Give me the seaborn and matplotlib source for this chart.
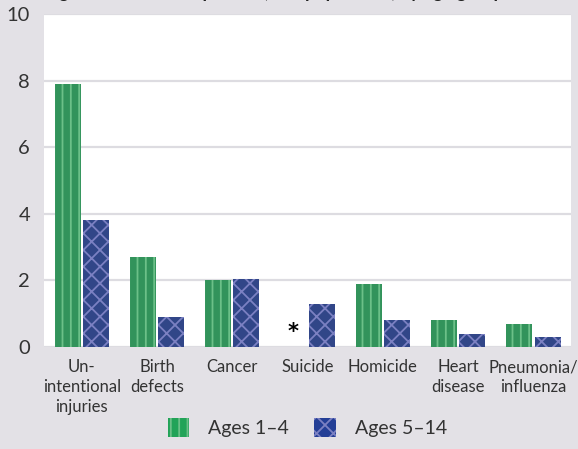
import numpy as np
import pandas as pd
import matplotlib
matplotlib.use("Agg")
import matplotlib.pyplot as plt
from matplotlib.patches import Patch
import seaborn as sns

causes = ["Un-\nintentional\ninjuries", "Birth\ndefects", "Cancer", "Suicide",
          "Homicide", "Heart\ndisease", "Pneumonia/\ninfluenza"]
ages_1_4 = [7.9, 2.7, 2.0, np.nan, 1.9, 0.8, 0.7]
ages_5_14 = [3.8, 0.9, 2.05, 1.3, 0.8, 0.4, 0.3]
series_names = ["Ages 1\u20134", "Ages 5\u201314"]
yticks = [0, 2, 4, 6, 8, 10]

df = pd.DataFrame({"cause": causes, series_names[0]: ages_1_4, series_names[1]: ages_5_14})
long = df.melt(id_vars="cause", var_name="age", value_name="rate")

sns.set_theme(style="white")
plt.rcParams["font.family"] = ["Lato", "DejaVu Sans"]
plt.rcParams["hatch.linewidth"] = 1.3

bg = "#e3e1e6"
green, green_h = "#22a358", "#6cc088"
blue, blue_h = "#233e96", "#7b80c2"

fig = plt.figure(figsize=(5.78, 4.49), dpi=100, facecolor=bg)
ax = fig.add_axes([0.0761, 0.2272, 0.912, 0.7416])
ax.set_facecolor("white")

sns.barplot(data=long, x="cause", y="rate", hue="age", hue_order=series_names,
            palette=[green, blue], width=0.75, gap=0.08, ax=ax, legend=False,
            zorder=3)

hatches = ["||", "xx"]
hcols = [green_h, blue_h]
for cont, h, hc in zip(ax.containers, hatches, hcols):
    for bar in cont:
        bar.set_hatch(h)
        bar.set_edgecolor(hc)
        bar.set_linewidth(0)

ax.set_ylim(0, 10)
ax.set_xlim(-0.5, 6.5)
ax.set_yticks(yticks)
ax.set_yticklabels([str(t) for t in yticks])
ax.yaxis.grid(True, color="#dddce1", linewidth=1.6, zorder=0)
ax.set_axisbelow(True)
for s in ax.spines.values():
    s.set_visible(False)
ax.tick_params(axis="y", length=0, pad=10, labelsize=14.5, labelcolor="#333333")
ax.tick_params(axis="x", length=0, pad=9, labelsize=12, labelcolor="#333333")
for lbl in ax.get_xticklabels():
    lbl.set_linespacing(1.3)
ax.set_xlabel("")
ax.set_ylabel("")

# missing-data marker for Suicide, ages 1-4
ax.text(3 - 0.1875, 0.45, "*", ha="center", va="center", fontsize=15,
        color="black", fontweight="bold", family="DejaVu Sans")

# cropped title at the very top (only descenders visible)
fig.text(0.01, 1.0 + 2.0 / 449, "Leading causes of death per 100,000 population, by age group",
         ha="left", va="baseline", fontsize=13, fontweight="bold", color="#222222")

handles = [Patch(facecolor=green, hatch="||", edgecolor=green_h, linewidth=0),
           Patch(facecolor=blue, hatch="xx", edgecolor=blue_h, linewidth=0)]
fig.legend(handles, series_names, loc="center", bbox_to_anchor=(0.532, 0.048),
           ncol=2, frameon=False, fontsize=14, handlelength=1.1, handleheight=1.1,
           columnspacing=1.3, handletextpad=1.0, labelcolor="#333333")

fig.savefig("out.png", dpi=100, facecolor=bg)
